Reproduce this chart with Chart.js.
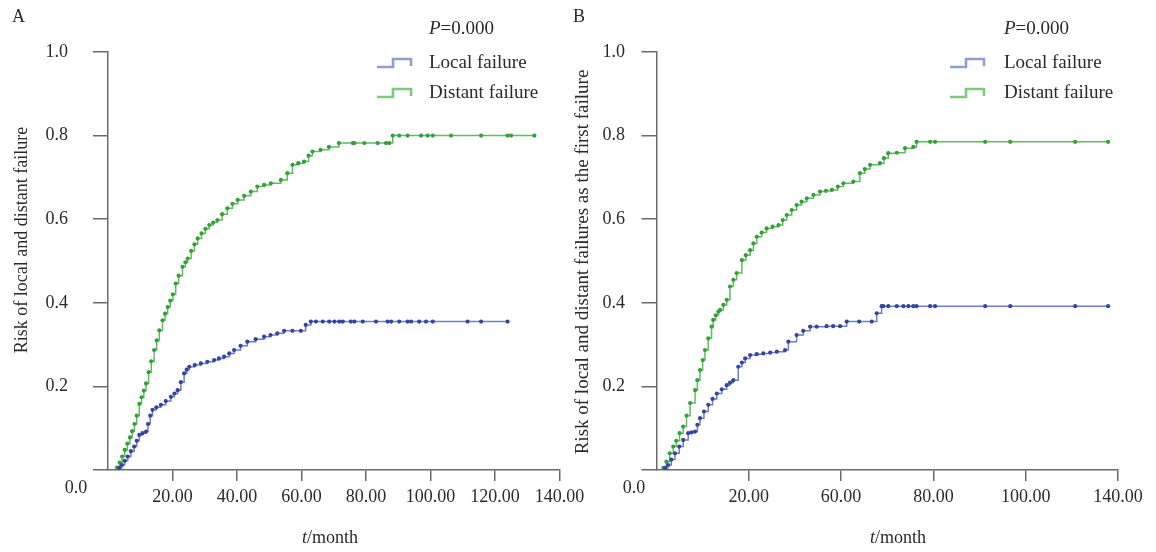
<!DOCTYPE html>
<html lang="en">
<head>
  <meta charset="UTF-8">
  <title>Risk of local and distant failure</title>
  <script src="https://cdn.jsdelivr.net/npm/chart.js"></script>
  <style>
    body { margin: 0; background: #fff; }
    #wrap { position: relative; width: 1156px; height: 552px; overflow: hidden; }
    canvas { position: absolute; top: 0; }
    #panelA { left: 0; }
    #panelB { left: 560px; }
  </style>
</head>
<body>
  <div id="wrap">
    <canvas id="panelA" width="600" height="552"></canvas>
    <canvas id="panelB" width="596" height="552"></canvas>
  </div>

  <script>
    // ---- data (months, cumulative risk) ----
    const seriesNames = ['Local failure', 'Distant failure'];

    const localA_month = [3.5, 4.3, 5.2, 6.1, 7.1, 8.1, 8.9, 9.7, 10.7, 11.8, 12.4, 13.1, 13.8, 15.0, 16.4, 17.9, 19.5, 20.6, 21.6, 22.6, 23.6, 24.4, 25.2, 26.9, 28.8, 30.8, 32.9, 34.4, 36.0, 37.6, 39.1, 41.1, 43.2, 45.8, 48.4, 50.4, 52.5, 54.6, 57.2, 59.8, 61.3, 62.9, 64.5, 66.6, 68.6, 70.2, 71.7, 72.8, 75.3, 76.4, 79.0, 83.1, 86.7, 87.8, 90.3, 92.9, 94.0, 96.5, 98.6, 100.7, 111.5, 115.7, 123.9];
    const localA_risk = [0.005, 0.012, 0.022, 0.032, 0.045, 0.056, 0.07, 0.084, 0.088, 0.092, 0.11, 0.13, 0.144, 0.15, 0.156, 0.165, 0.175, 0.183, 0.191, 0.21, 0.231, 0.24, 0.247, 0.251, 0.255, 0.259, 0.263, 0.267, 0.271, 0.279, 0.287, 0.297, 0.307, 0.313, 0.319, 0.323, 0.327, 0.333, 0.333, 0.333, 0.347, 0.355, 0.355, 0.355, 0.355, 0.355, 0.355, 0.355, 0.355, 0.355, 0.355, 0.355, 0.355, 0.355, 0.355, 0.355, 0.355, 0.355, 0.355, 0.355, 0.355, 0.355, 0.355];

    const distantA_month = [2.8, 3.6, 4.4, 5.2, 6.0, 6.8, 7.5, 8.2, 8.9, 9.7, 10.4, 11.1, 11.8, 12.6, 13.4, 14.3, 15.1, 15.9, 16.9, 17.7, 18.5, 19.3, 20.1, 21.0, 21.9, 23.1, 24.0, 24.7, 25.8, 26.8, 27.8, 29.0, 30.2, 31.4, 32.6, 33.9, 35.4, 37.0, 38.6, 40.2, 42.2, 44.3, 46.3, 48.4, 50.5, 53.6, 55.6, 57.2, 59.0, 60.8, 62.2, 63.4, 65.9, 68.5, 71.6, 75.9, 76.4, 79.5, 83.6, 86.2, 87.2, 88.3, 90.3, 92.9, 97.1, 99.1, 100.7, 106.4, 115.7, 123.9, 125.0, 132.2];
    const distantA_risk = [0.006, 0.018, 0.032, 0.048, 0.063, 0.078, 0.093, 0.11, 0.13, 0.158, 0.174, 0.19, 0.207, 0.234, 0.26, 0.287, 0.31, 0.334, 0.358, 0.374, 0.39, 0.405, 0.42, 0.446, 0.465, 0.486, 0.497, 0.506, 0.524, 0.54, 0.554, 0.566, 0.577, 0.586, 0.592, 0.598, 0.612, 0.626, 0.637, 0.646, 0.656, 0.666, 0.678, 0.682, 0.686, 0.694, 0.71, 0.73, 0.734, 0.738, 0.752, 0.762, 0.766, 0.773, 0.782, 0.782, 0.782, 0.782, 0.782, 0.782, 0.782, 0.80, 0.80, 0.80, 0.80, 0.80, 0.80, 0.80, 0.80, 0.80, 0.80, 0.80];

    const localB_month = [2.6, 3.5, 4.5, 5.6, 6.9, 8.1, 9.6, 10.6, 11.7, 12.4, 13.2, 14.4, 15.7, 17.0, 18.3, 19.8, 21.3, 22.3, 23.3, 24.8, 25.9, 26.9, 28.4, 30.4, 32.4, 34.5, 36.5, 39.0, 40.0, 42.5, 44.5, 46.6, 48.6, 51.6, 53.6, 55.7, 57.7, 61.5, 65.3, 66.8, 68.3, 68.8, 70.3, 72.9, 74.9, 76.4, 77.9, 78.9, 83.0, 84.5, 99.7, 107.3, 127.0, 137.0];
    const localB_risk = [0.005, 0.012, 0.025, 0.04, 0.056, 0.072, 0.088, 0.09, 0.092, 0.108, 0.124, 0.14, 0.156, 0.17, 0.183, 0.193, 0.203, 0.209, 0.215, 0.247, 0.257, 0.267, 0.275, 0.277, 0.279, 0.281, 0.283, 0.287, 0.307, 0.323, 0.333, 0.343, 0.343, 0.344, 0.344, 0.344, 0.355, 0.355, 0.355, 0.375, 0.392, 0.392, 0.392, 0.392, 0.392, 0.392, 0.392, 0.392, 0.392, 0.392, 0.392, 0.392, 0.392, 0.392];

    const distantB_month = [2.1, 3.0, 4.0, 5.1, 6.0, 7.0, 8.1, 9.1, 10.2, 11.7, 12.4, 13.2, 14.0, 14.7, 15.7, 16.7, 17.2, 18.0, 18.8, 19.3, 20.3, 21.3, 22.3, 23.3, 24.3, 25.9, 27.1, 28.4, 29.4, 30.4, 31.9, 33.4, 35.2, 37.0, 38.3, 39.5, 41.0, 42.5, 44.0, 45.6, 47.6, 49.6, 51.4, 53.2, 55.0, 56.7, 59.7, 61.7, 63.2, 64.8, 67.8, 69.0, 70.3, 72.9, 75.4, 77.9, 78.9, 83.0, 84.5, 99.7, 107.3, 127.0, 137.0];
    const distantB_risk = [0.005, 0.02, 0.04, 0.056, 0.07, 0.088, 0.104, 0.13, 0.16, 0.191, 0.215, 0.239, 0.263, 0.287, 0.315, 0.343, 0.359, 0.37, 0.379, 0.383, 0.395, 0.407, 0.439, 0.455, 0.471, 0.502, 0.514, 0.526, 0.542, 0.558, 0.568, 0.578, 0.582, 0.586, 0.598, 0.61, 0.622, 0.634, 0.642, 0.65, 0.658, 0.666, 0.668, 0.67, 0.678, 0.686, 0.69, 0.71, 0.72, 0.73, 0.734, 0.746, 0.758, 0.759, 0.77, 0.773, 0.785, 0.785, 0.785, 0.785, 0.785, 0.785, 0.785];

    // ---- ticks ----
    const yTickValues = [0, 0.2, 0.4, 0.6, 0.8, 1.0];
    const yTickLabels = ['0.0', '0.2', '0.4', '0.6', '0.8', '1.0'];
    const xTickValuesA = [20, 40, 60, 80, 100, 120, 140];
    const xTickLabelsA = ['20.00', '40.00', '60.00', '80.00', '100.00', '120.00', '140.00'];
    // panel B in the original carries these labels on five evenly spaced ticks
    const xTickValuesB = [28, 56, 84, 112, 140];
    const xTickLabelsB = ['20.00', '60.00', '80.00', '100.00', '140.00'];

    const pLabel = ['P', '=0.000'];
    const xTitle = ['t', '/month'];

    const FONT = '"Liberation Serif", "DejaVu Serif", serif';
    const TEXT = '#2a2a2a';
    const AXIS = '#6a6a6a';
    const colors = {
      line: ['#6f7fc6', '#62bb62'],
      point: ['#35449e', '#33a038'],
      legend: ['#8f9dd6', '#82c882']
    };

    const toXY = (xs, ys) => xs.map((x, i) => ({ x: x, y: ys[i] }));

    function drawRich(ctx, parts, x, y, size, align) {
      const fonts = [`italic ${size}px ${FONT}`, `${size}px ${FONT}`];
      let total = 0;
      parts.forEach((p, i) => { ctx.font = fonts[i === 0 ? 0 : 1]; total += ctx.measureText(p).width; });
      let cx = align === 'center' ? x - total / 2 : x;
      ctx.textAlign = 'left';
      parts.forEach((p, i) => {
        ctx.font = fonts[i === 0 ? 0 : 1];
        ctx.fillText(p, cx, y);
        cx += ctx.measureText(p).width;
      });
    }

    function decor(L) {
      return {
        id: 'decor',
        afterDraw(chart) {
          const ctx = chart.ctx;
          ctx.save();
          ctx.fillStyle = TEXT;
          ctx.textBaseline = 'middle';

          ctx.font = `18px ${FONT}`;
          ctx.textAlign = 'left';
          ctx.fillText(L.letter, L.letterX, L.letterY);

          drawRich(ctx, pLabel, L.textX, L.pY, 19, 'left');

          chart.data.datasets.forEach((ds, i) => {
            const y = L.legendY + i * L.legendGap;
            const x0 = L.symX;
            ctx.strokeStyle = colors.legend[i];
            ctx.lineWidth = 2.6;
            ctx.beginPath();
            ctx.moveTo(x0, y + 4);
            ctx.lineTo(x0 + 16, y + 4);
            ctx.lineTo(x0 + 16, y - 4);
            ctx.lineTo(x0 + 34, y - 4);
            ctx.lineTo(x0 + 34, y + 3);
            ctx.stroke();
            ctx.font = `19px ${FONT}`;
            ctx.textAlign = 'left';
            ctx.fillText(ds.label, L.textX, y);
          });

          // the zero label sits below the axis corner in the original
          const ys = chart.scales.y;
          ctx.font = `18px ${FONT}`;
          ctx.textAlign = 'center';
          ctx.fillText(yTickLabels[0], L.zeroX, ys.getPixelForValue(0) + L.zeroDrop);

          drawRich(ctx, xTitle, L.xTitleX, L.xTitleY, 18, 'center');

          ctx.translate(L.yTitleX, L.yTitleY);
          ctx.rotate(-Math.PI / 2);
          ctx.font = `${L.yTitleSize}px ${FONT}`;
          ctx.textAlign = 'center';
          ctx.fillText(L.yTitle, 0, 0);
          ctx.restore();
        }
      };
    }

    function makePanel(id, p) {
      const datasets = [p.local, p.distant].map((d, i) => ({
        label: seriesNames[i],
        data: d,
        stepped: 'before',
        borderColor: colors.line[i],
        borderWidth: 1.5,
        pointRadius: 2.1,
        pointBorderWidth: 0,
        pointBackgroundColor: colors.point[i],
        fill: false
      }));

      return new Chart(document.getElementById(id), {
        type: 'line',
        data: { datasets: datasets },
        options: {
          responsive: false,
          animation: false,
          events: [],
          layout: { padding: { left: 0, top: 52, right: p.padRight, bottom: 0 } },
          plugins: { legend: { display: false }, tooltip: { enabled: false } },
          scales: {
            x: {
              type: 'linear',
              min: 0,
              max: 140,
              afterBuildTicks: s => { s.ticks = p.xTicks.map(v => ({ value: v })); },
              afterFit: s => { s.height = 82; },
              ticks: {
                callback: (v, i) => p.xLabels[i],
                font: { family: FONT, size: 18 },
                color: TEXT,
                padding: 5,
                maxRotation: 0,
                autoSkip: false
              },
              grid: { drawOnChartArea: false, drawTicks: true, tickLength: 11, color: AXIS, lineWidth: 1.5 },
              border: { display: true, color: AXIS, width: 1.5 }
            },
            y: {
              type: 'linear',
              min: 0,
              max: 1,
              afterBuildTicks: s => { s.ticks = yTickValues.map(v => ({ value: v })); },
              afterFit: s => { s.width = p.yWidth; },
              ticks: {
                callback: (v, i) => (i === 0 ? '' : yTickLabels[i]),
                font: { family: FONT, size: 18 },
                color: TEXT,
                padding: p.yPad,
                autoSkip: false
              },
              grid: { drawOnChartArea: false, drawTicks: true, tickLength: 15, color: AXIS, lineWidth: 1.5 },
              border: { display: true, color: AXIS, width: 1.5 }
            }
          }
        },
        plugins: [decor(p.layout)]
      });
    }

    makePanel('panelA', {
      local: toXY(localA_month, localA_risk),
      distant: toXY(distantA_month, distantA_risk),
      xTicks: xTickValuesA,
      xLabels: xTickLabelsA,
      yWidth: 108,
      yPad: 25,
      padRight: 40.5,
      layout: {
        letter: 'A', letterX: 12, letterY: 17,
        textX: 429, pY: 29, symX: 377, legendY: 63, legendGap: 30,
        zeroX: 76, zeroDrop: 18,
        xTitleX: 330, xTitleY: 538,
        yTitle: 'Risk of local and distant failure', yTitleSize: 18, yTitleX: 22, yTitleY: 240
      }
    });

    makePanel('panelB', {
      local: toXY(localB_month, localB_risk),
      distant: toXY(distantB_month, distantB_risk),
      xTicks: xTickValuesB,
      xLabels: xTickLabelsB,
      yWidth: 96.5,
      yPad: 16.5,
      padRight: 38,
      layout: {
        letter: 'B', letterX: 13, letterY: 17,
        textX: 444, pY: 29, symX: 390, legendY: 63, legendGap: 30,
        zeroX: 74, zeroDrop: 18,
        xTitleX: 338, xTitleY: 538,
        yTitle: 'Risk of local and distant failures as the first failure', yTitleSize: 19, yTitleX: 23, yTitleY: 262
      }
    });
  </script>
</body>
</html>
